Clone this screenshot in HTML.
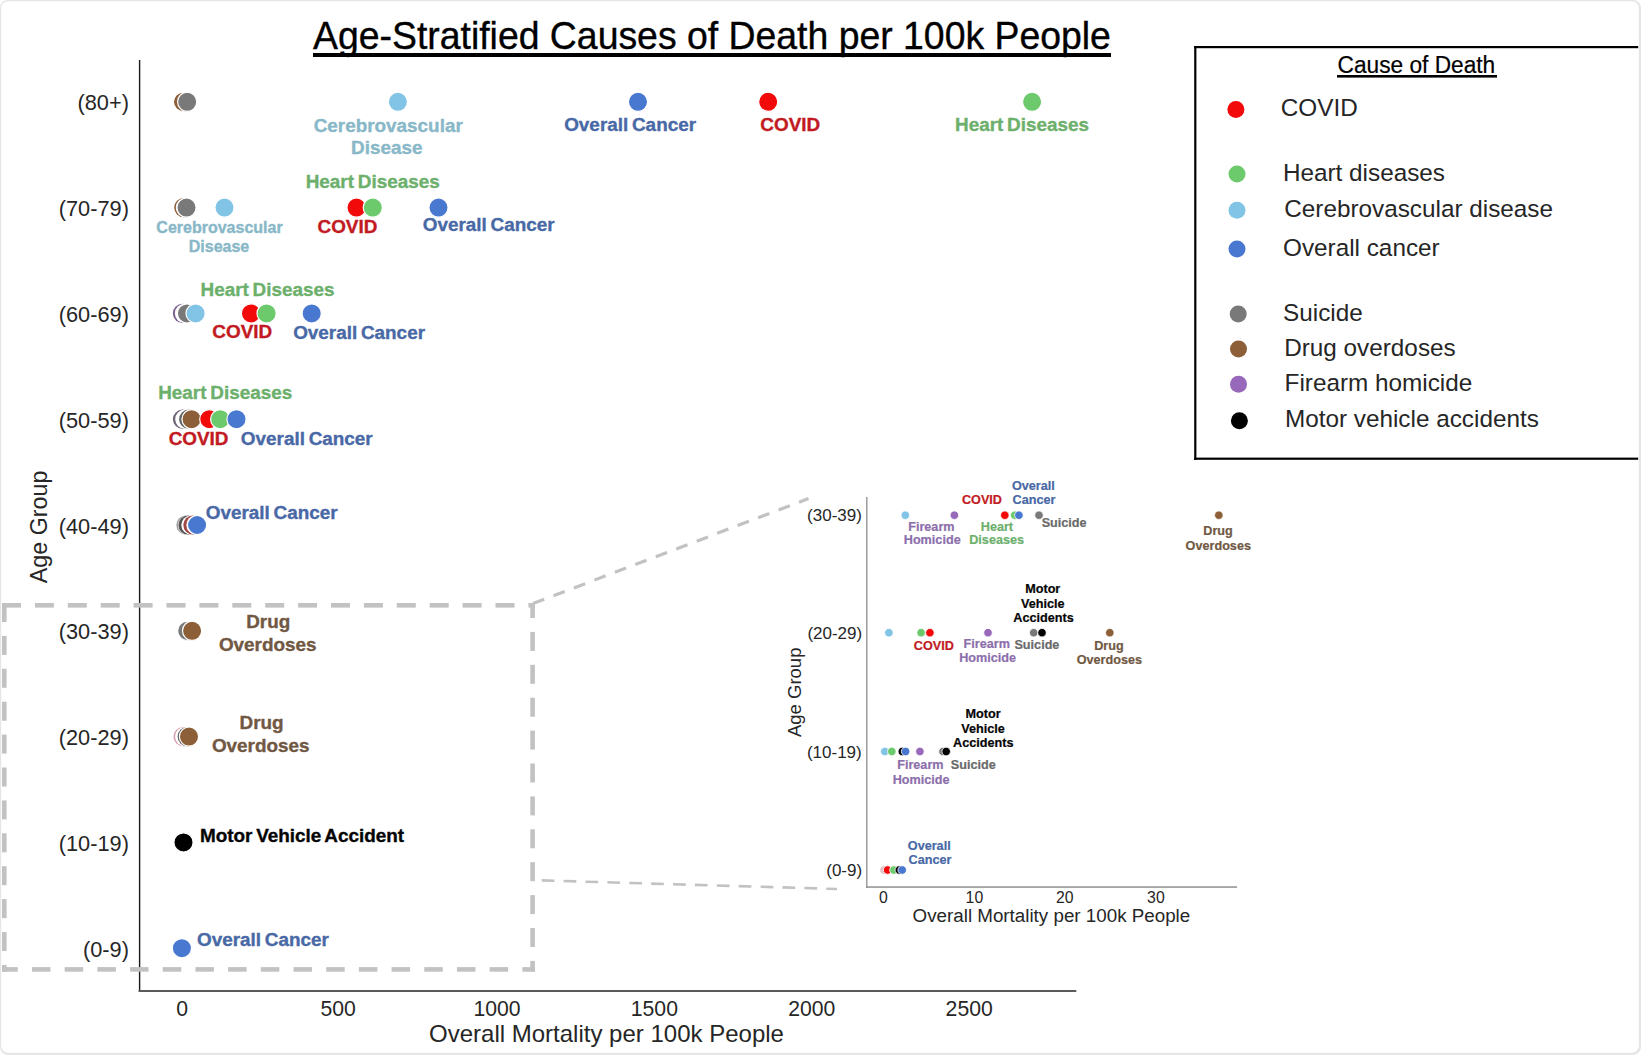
<!DOCTYPE html>
<html><head><meta charset="utf-8"><style>
html,body{margin:0;padding:0;background:#fff;}
svg{display:block;font-family:"Liberation Sans",sans-serif;}
</style></head><body>
<svg width="1641" height="1055" viewBox="0 0 1641 1055">
<rect x="0" y="0" width="1641" height="1055" rx="8" ry="8" fill="#e6e6e6"/>
<rect x="1.2" y="1.2" width="1637.6" height="1051.6" rx="7" ry="7" fill="#ffffff"/>
<g transform="translate(0,49.5) scale(1,1.06) translate(0,-49.5)">
<text x="313.03" y="49.50" font-size="37.4" font-weight="normal" fill="#000000" stroke="#000" stroke-width="0.35">Age-Stratified Causes of Death per 100k People</text>
</g>
<g transform="translate(0,73.4) scale(1,1.06) translate(0,-73.4)">
<text x="1337.58" y="73.40" font-size="22.7" font-weight="normal" fill="#000000" stroke="#000" stroke-width="0.2">Cause of Death</text>
</g>
<text x="1280.77" y="116.30" font-size="24.3" font-weight="normal" fill="#262626">COVID</text>
<text x="1282.91" y="180.60" font-size="24.3" font-weight="normal" fill="#262626">Heart diseases</text>
<text x="1284.26" y="217.20" font-size="24.3" font-weight="normal" fill="#262626">Cerebrovascular disease</text>
<text x="1283.02" y="256.10" font-size="24.3" font-weight="normal" fill="#262626">Overall cancer</text>
<text x="1283.10" y="320.60" font-size="24.3" font-weight="normal" fill="#262626">Suicide</text>
<text x="1284.18" y="356.00" font-size="24.3" font-weight="normal" fill="#262626">Drug overdoses</text>
<text x="1284.55" y="391.20" font-size="24.3" font-weight="normal" fill="#262626">Firearm homicide</text>
<text x="1284.94" y="426.60" font-size="24.3" font-weight="normal" fill="#262626">Motor vehicle accidents</text>
<text x="429.08" y="1042.00" font-size="24.0" font-weight="normal" fill="#262626">Overall Mortality per 100k People</text>
<text x="176.36" y="1016.30" font-size="21.2" font-weight="normal" fill="#262626">0</text>
<text x="320.52" y="1016.30" font-size="21.2" font-weight="normal" fill="#262626">500</text>
<text x="473.47" y="1016.30" font-size="21.2" font-weight="normal" fill="#262626">1000</text>
<text x="630.81" y="1016.30" font-size="21.2" font-weight="normal" fill="#262626">1500</text>
<text x="788.21" y="1016.30" font-size="21.2" font-weight="normal" fill="#262626">2000</text>
<text x="945.62" y="1016.30" font-size="21.2" font-weight="normal" fill="#262626">2500</text>
<text x="807.10" y="521.20" font-size="17.0" font-weight="normal" fill="#262626">(30-39)</text>
<text x="807.40" y="638.60" font-size="17.0" font-weight="normal" fill="#262626">(20-29)</text>
<text x="806.95" y="757.80" font-size="17.0" font-weight="normal" fill="#262626">(10-19)</text>
<text x="826.26" y="875.70" font-size="17.0" font-weight="normal" fill="#262626">(0-9)</text>
<text x="879.11" y="903.30" font-size="15.8" font-weight="normal" fill="#262626">0</text>
<text x="965.62" y="903.30" font-size="15.8" font-weight="normal" fill="#262626">10</text>
<text x="1055.92" y="903.30" font-size="15.8" font-weight="normal" fill="#262626">20</text>
<text x="1147.12" y="903.30" font-size="15.8" font-weight="normal" fill="#262626">30</text>
<text x="912.57" y="922.30" font-size="18.8" font-weight="normal" fill="#262626">Overall Mortality per 100k People</text>
<rect x="313" y="53" width="798" height="4" fill="#000"/>
<rect x="1337" y="75" width="160" height="2.6" fill="#000"/>
<text x="77.53" y="110.30" font-size="21.75" font-weight="normal" fill="#262626">(80+)</text>
<text x="58.78" y="216.10" font-size="21.75" font-weight="normal" fill="#262626">(70-79)</text>
<text x="58.78" y="321.90" font-size="21.75" font-weight="normal" fill="#262626">(60-69)</text>
<text x="58.78" y="427.70" font-size="21.75" font-weight="normal" fill="#262626">(50-59)</text>
<text x="58.78" y="533.50" font-size="21.75" font-weight="normal" fill="#262626">(40-49)</text>
<text x="58.78" y="639.30" font-size="21.75" font-weight="normal" fill="#262626">(30-39)</text>
<text x="58.78" y="745.10" font-size="21.75" font-weight="normal" fill="#262626">(20-29)</text>
<text x="58.78" y="850.90" font-size="21.75" font-weight="normal" fill="#262626">(10-19)</text>
<text x="82.99" y="956.70" font-size="21.75" font-weight="normal" fill="#262626">(0-9)</text>
<text transform="translate(46.50,583.19) rotate(-90)" x="0" y="0" font-size="23.3" fill="#262626">Age Group</text>
<text transform="translate(800.60,737.03) rotate(-90)" x="0" y="0" font-size="18.5" fill="#262626">Age Group</text>
<rect x="138.9" y="60" width="1.4" height="932" fill="#1a1a1a"/>
<rect x="138.6" y="990" width="937.7" height="2" fill="#5a5a5a"/>
<rect x="866.1" y="497" width="1.4" height="391" fill="#959595"/>
<rect x="866.1" y="886.3" width="371" height="1.5" fill="#8f8f8f"/>
<rect x="1194.2" y="46" width="2.2" height="414" fill="#000"/>
<rect x="1194.2" y="46" width="444" height="2.2" fill="#000"/>
<rect x="1194.2" y="457.6" width="444" height="2.2" fill="#000"/>
<rect x="2.00" y="603.00" width="19.00" height="4.6" fill="#c2c2c2"/>
<rect x="34.90" y="603.00" width="19.00" height="4.6" fill="#c2c2c2"/>
<rect x="67.80" y="603.00" width="19.00" height="4.6" fill="#c2c2c2"/>
<rect x="100.70" y="603.00" width="19.00" height="4.6" fill="#c2c2c2"/>
<rect x="133.60" y="603.00" width="19.00" height="4.6" fill="#c2c2c2"/>
<rect x="166.50" y="603.00" width="19.00" height="4.6" fill="#c2c2c2"/>
<rect x="199.40" y="603.00" width="19.00" height="4.6" fill="#c2c2c2"/>
<rect x="232.30" y="603.00" width="19.00" height="4.6" fill="#c2c2c2"/>
<rect x="265.20" y="603.00" width="19.00" height="4.6" fill="#c2c2c2"/>
<rect x="298.10" y="603.00" width="19.00" height="4.6" fill="#c2c2c2"/>
<rect x="331.00" y="603.00" width="19.00" height="4.6" fill="#c2c2c2"/>
<rect x="363.90" y="603.00" width="19.00" height="4.6" fill="#c2c2c2"/>
<rect x="396.80" y="603.00" width="19.00" height="4.6" fill="#c2c2c2"/>
<rect x="429.70" y="603.00" width="19.00" height="4.6" fill="#c2c2c2"/>
<rect x="462.60" y="603.00" width="19.00" height="4.6" fill="#c2c2c2"/>
<rect x="495.50" y="603.00" width="19.00" height="4.6" fill="#c2c2c2"/>
<rect x="528.40" y="603.00" width="6.60" height="4.6" fill="#c2c2c2"/>
<rect x="2.00" y="603.00" width="4.6" height="19.00" fill="#c2c2c2"/>
<rect x="2.00" y="635.90" width="4.6" height="19.00" fill="#c2c2c2"/>
<rect x="2.00" y="668.80" width="4.6" height="19.00" fill="#c2c2c2"/>
<rect x="2.00" y="701.70" width="4.6" height="19.00" fill="#c2c2c2"/>
<rect x="2.00" y="734.60" width="4.6" height="19.00" fill="#c2c2c2"/>
<rect x="2.00" y="767.50" width="4.6" height="19.00" fill="#c2c2c2"/>
<rect x="2.00" y="800.40" width="4.6" height="19.00" fill="#c2c2c2"/>
<rect x="2.00" y="833.30" width="4.6" height="19.00" fill="#c2c2c2"/>
<rect x="2.00" y="866.20" width="4.6" height="19.00" fill="#c2c2c2"/>
<rect x="2.00" y="899.10" width="4.6" height="19.00" fill="#c2c2c2"/>
<rect x="2.00" y="932.00" width="4.6" height="19.00" fill="#c2c2c2"/>
<rect x="2.00" y="964.90" width="4.6" height="6.80" fill="#c2c2c2"/>
<rect x="530.30" y="603.00" width="4.6" height="15.00" fill="#c2c2c2"/>
<rect x="530.30" y="631.90" width="4.6" height="19.00" fill="#c2c2c2"/>
<rect x="530.30" y="664.80" width="4.6" height="19.00" fill="#c2c2c2"/>
<rect x="530.30" y="697.70" width="4.6" height="19.00" fill="#c2c2c2"/>
<rect x="530.30" y="730.60" width="4.6" height="19.00" fill="#c2c2c2"/>
<rect x="530.30" y="763.50" width="4.6" height="19.00" fill="#c2c2c2"/>
<rect x="530.30" y="796.40" width="4.6" height="19.00" fill="#c2c2c2"/>
<rect x="530.30" y="829.30" width="4.6" height="19.00" fill="#c2c2c2"/>
<rect x="530.30" y="862.20" width="4.6" height="19.00" fill="#c2c2c2"/>
<rect x="530.30" y="895.10" width="4.6" height="19.00" fill="#c2c2c2"/>
<rect x="530.30" y="928.00" width="4.6" height="19.00" fill="#c2c2c2"/>
<rect x="530.30" y="960.90" width="4.6" height="10.80" fill="#c2c2c2"/>
<rect x="2.00" y="967.10" width="15.80" height="4.6" fill="#c2c2c2"/>
<rect x="31.99" y="967.10" width="18.50" height="4.6" fill="#c2c2c2"/>
<rect x="64.68" y="967.10" width="18.50" height="4.6" fill="#c2c2c2"/>
<rect x="97.37" y="967.10" width="18.50" height="4.6" fill="#c2c2c2"/>
<rect x="130.06" y="967.10" width="18.50" height="4.6" fill="#c2c2c2"/>
<rect x="162.75" y="967.10" width="18.50" height="4.6" fill="#c2c2c2"/>
<rect x="195.44" y="967.10" width="18.50" height="4.6" fill="#c2c2c2"/>
<rect x="228.13" y="967.10" width="18.50" height="4.6" fill="#c2c2c2"/>
<rect x="260.82" y="967.10" width="18.50" height="4.6" fill="#c2c2c2"/>
<rect x="293.51" y="967.10" width="18.50" height="4.6" fill="#c2c2c2"/>
<rect x="326.20" y="967.10" width="18.50" height="4.6" fill="#c2c2c2"/>
<rect x="358.89" y="967.10" width="18.50" height="4.6" fill="#c2c2c2"/>
<rect x="391.58" y="967.10" width="18.50" height="4.6" fill="#c2c2c2"/>
<rect x="424.27" y="967.10" width="18.50" height="4.6" fill="#c2c2c2"/>
<rect x="456.96" y="967.10" width="18.50" height="4.6" fill="#c2c2c2"/>
<rect x="489.65" y="967.10" width="18.50" height="4.6" fill="#c2c2c2"/>
<rect x="522.34" y="967.10" width="12.66" height="4.6" fill="#c2c2c2"/>
<line x1="533" y1="603.5" x2="808.5" y2="498.6" stroke="#c2c2c2" stroke-width="3.2" stroke-dasharray="12 9.9"/>
<line x1="541.7" y1="880.4" x2="837" y2="889" stroke="#c2c2c2" stroke-width="2.6" stroke-dasharray="12.7 9.2"/>
<circle cx="183.00" cy="101.80" r="9.6" fill="#8c5f38" stroke="#fff" stroke-width="1.2"/>
<circle cx="187.20" cy="101.80" r="9.6" fill="#797979" stroke="#fff" stroke-width="1.2"/>
<circle cx="397.90" cy="101.80" r="9.6" fill="#82c4e6" stroke="#fff" stroke-width="1.2"/>
<circle cx="638.00" cy="101.80" r="9.6" fill="#4878d0" stroke="#fff" stroke-width="1.2"/>
<circle cx="768.20" cy="101.80" r="9.6" fill="#f20a0a" stroke="#fff" stroke-width="1.2"/>
<circle cx="1032.10" cy="101.80" r="9.6" fill="#6cca6c" stroke="#fff" stroke-width="1.2"/>
<circle cx="183.80" cy="207.60" r="9.6" fill="#8c5f38"/>
<circle cx="185.40" cy="207.60" r="9.6" fill="#ffffff"/>
<circle cx="186.50" cy="207.60" r="9.6" fill="#797979" stroke="#fff" stroke-width="1.2"/>
<circle cx="224.50" cy="207.60" r="9.6" fill="#82c4e6" stroke="#fff" stroke-width="1.2"/>
<circle cx="356.50" cy="207.60" r="9.6" fill="#f20a0a" stroke="#fff" stroke-width="1.2"/>
<circle cx="372.80" cy="207.60" r="9.6" fill="#6cca6c" stroke="#fff" stroke-width="1.2"/>
<circle cx="438.50" cy="207.60" r="9.6" fill="#4878d0" stroke="#fff" stroke-width="1.2"/>
<circle cx="182.50" cy="313.40" r="9.6" fill="#7a5f8e"/>
<circle cx="184.50" cy="313.40" r="9.6" fill="#ffffff"/>
<circle cx="187.00" cy="313.40" r="9.6" fill="#797979" stroke="#fff" stroke-width="1.2"/>
<circle cx="195.60" cy="313.40" r="9.6" fill="#82c4e6" stroke="#fff" stroke-width="1.2"/>
<circle cx="251.00" cy="313.40" r="9.6" fill="#f20a0a" stroke="#fff" stroke-width="1.2"/>
<circle cx="266.60" cy="313.40" r="9.6" fill="#6cca6c" stroke="#fff" stroke-width="1.2"/>
<circle cx="311.70" cy="313.40" r="9.6" fill="#4878d0" stroke="#fff" stroke-width="1.2"/>
<circle cx="182.50" cy="419.20" r="9.6" fill="#6e6478"/>
<circle cx="184.80" cy="419.20" r="9.6" fill="#ffffff"/>
<circle cx="188.70" cy="419.20" r="9.6" fill="#666666"/>
<circle cx="191.30" cy="419.20" r="9.6" fill="#ffffff"/>
<circle cx="191.60" cy="419.20" r="9.6" fill="#8c5f38" stroke="#fff" stroke-width="1.2"/>
<circle cx="209.30" cy="419.20" r="9.6" fill="#f20a0a" stroke="#fff" stroke-width="1.2"/>
<circle cx="220.20" cy="419.20" r="9.6" fill="#6cca6c" stroke="#fff" stroke-width="1.2"/>
<circle cx="236.50" cy="419.20" r="9.6" fill="#4878d0" stroke="#fff" stroke-width="1.2"/>
<circle cx="185.90" cy="525.00" r="9.6" fill="#a0a0a0"/>
<circle cx="187.50" cy="525.00" r="9.6" fill="#ffffff"/>
<circle cx="188.00" cy="525.00" r="9.6" fill="#555555"/>
<circle cx="190.90" cy="525.00" r="9.6" fill="#ffffff"/>
<circle cx="192.90" cy="525.00" r="9.6" fill="#a04848"/>
<circle cx="195.90" cy="525.00" r="9.6" fill="#ffffff"/>
<circle cx="197.10" cy="525.00" r="9.6" fill="#4878d0" stroke="#fff" stroke-width="1.2"/>
<circle cx="187.20" cy="630.80" r="9.6" fill="#797979" stroke="#fff" stroke-width="1.2"/>
<circle cx="192.10" cy="630.80" r="9.6" fill="#8c5f38" stroke="#fff" stroke-width="1.2"/>
<circle cx="183.10" cy="736.60" r="9.6" fill="#d8a0b0"/>
<circle cx="184.70" cy="736.60" r="9.6" fill="#ffffff"/>
<circle cx="187.20" cy="736.60" r="9.6" fill="#606060"/>
<circle cx="189.10" cy="736.60" r="9.6" fill="#ffffff"/>
<circle cx="189.00" cy="736.60" r="9.6" fill="#8c5f38" stroke="#fff" stroke-width="1.2"/>
<circle cx="183.50" cy="842.40" r="9.6" fill="#000000" stroke="#fff" stroke-width="1.2"/>
<circle cx="181.90" cy="948.20" r="9.6" fill="#4878d0" stroke="#fff" stroke-width="1.2"/>
<circle cx="905.30" cy="515.20" r="4.25" fill="#82c4e6" stroke="#fff" stroke-width="0.8"/>
<circle cx="954.40" cy="515.20" r="4.25" fill="#9868bb" stroke="#fff" stroke-width="0.8"/>
<circle cx="1004.80" cy="515.20" r="4.25" fill="#f20a0a" stroke="#fff" stroke-width="0.8"/>
<circle cx="1014.70" cy="515.20" r="4.25" fill="#6cca6c" stroke="#fff" stroke-width="0.8"/>
<circle cx="1018.90" cy="515.20" r="4.25" fill="#4878d0" stroke="#fff" stroke-width="0.8"/>
<circle cx="1039.00" cy="515.20" r="4.25" fill="#797979" stroke="#fff" stroke-width="0.8"/>
<circle cx="1218.80" cy="515.20" r="4.25" fill="#8c5f38" stroke="#fff" stroke-width="0.8"/>
<circle cx="888.90" cy="632.70" r="4.25" fill="#82c4e6" stroke="#fff" stroke-width="0.8"/>
<circle cx="921.10" cy="632.70" r="4.25" fill="#6cca6c" stroke="#fff" stroke-width="0.8"/>
<circle cx="929.90" cy="632.70" r="4.25" fill="#f20a0a" stroke="#fff" stroke-width="0.8"/>
<circle cx="988.00" cy="632.70" r="4.25" fill="#9868bb" stroke="#fff" stroke-width="0.8"/>
<circle cx="1033.70" cy="632.70" r="4.25" fill="#797979" stroke="#fff" stroke-width="0.8"/>
<circle cx="1042.00" cy="632.70" r="4.25" fill="#000000" stroke="#fff" stroke-width="0.8"/>
<circle cx="1109.80" cy="632.70" r="4.25" fill="#8c5f38" stroke="#fff" stroke-width="0.8"/>
<circle cx="884.80" cy="751.50" r="4.25" fill="#82c4e6" stroke="#fff" stroke-width="0.8"/>
<circle cx="891.80" cy="751.50" r="4.25" fill="#6cca6c" stroke="#fff" stroke-width="0.8"/>
<circle cx="902.30" cy="751.50" r="4.25" fill="#000000" stroke="#fff" stroke-width="0.8"/>
<circle cx="905.60" cy="751.50" r="4.25" fill="#4878d0" stroke="#fff" stroke-width="0.8"/>
<circle cx="919.90" cy="751.50" r="4.25" fill="#9868bb" stroke="#fff" stroke-width="0.8"/>
<circle cx="943.00" cy="751.50" r="4.25" fill="#797979" stroke="#fff" stroke-width="0.8"/>
<circle cx="946.20" cy="751.50" r="4.25" fill="#000000" stroke="#fff" stroke-width="0.8"/>
<circle cx="884.00" cy="870.00" r="4.25" fill="#e0c0c4" stroke="#fff" stroke-width="0.8"/>
<circle cx="887.60" cy="870.00" r="4.25" fill="#f20a0a" stroke="#fff" stroke-width="0.8"/>
<circle cx="893.90" cy="870.00" r="4.25" fill="#6cca6c" stroke="#fff" stroke-width="0.8"/>
<circle cx="899.30" cy="870.00" r="4.25" fill="#000000" stroke="#fff" stroke-width="0.8"/>
<circle cx="902.20" cy="870.00" r="4.25" fill="#4878d0" stroke="#fff" stroke-width="0.8"/>
<circle cx="1235.90" cy="109.50" r="8.5" fill="#f20a0a" stroke="#fff" stroke-width="0"/>
<circle cx="1237.00" cy="173.90" r="8.5" fill="#6cca6c" stroke="#fff" stroke-width="0"/>
<circle cx="1237.00" cy="210.20" r="8.5" fill="#82c4e6" stroke="#fff" stroke-width="0"/>
<circle cx="1237.00" cy="249.10" r="8.5" fill="#4878d0" stroke="#fff" stroke-width="0"/>
<circle cx="1238.20" cy="313.90" r="8.5" fill="#797979" stroke="#fff" stroke-width="0"/>
<circle cx="1238.50" cy="349.10" r="8.5" fill="#8c5f38" stroke="#fff" stroke-width="0"/>
<circle cx="1238.50" cy="384.30" r="8.5" fill="#9868bb" stroke="#fff" stroke-width="0"/>
<circle cx="1239.40" cy="420.80" r="8.5" fill="#000000" stroke="#fff" stroke-width="0"/>
<text x="313.66" y="132.00" font-size="18.9" font-weight="bold" fill="#88b8c8" stroke="#88b8c8" stroke-width="0.35">Cerebrovascular</text>
<text x="351.02" y="154.20" font-size="18.9" font-weight="bold" fill="#88b8c8" stroke="#88b8c8" stroke-width="0.35">Disease</text>
<text x="564.18" y="130.80" font-size="18.9" font-weight="bold" fill="#4868a6" word-spacing="-1.5" stroke="#4868a6" stroke-width="0.35">Overall Cancer</text>
<text x="760.32" y="130.80" font-size="18.9" font-weight="bold" fill="#c21a22" stroke="#c21a22" stroke-width="0.35">COVID</text>
<text x="955.08" y="130.70" font-size="18.9" font-weight="bold" fill="#6cb06c" word-spacing="-1.5" stroke="#6cb06c" stroke-width="0.35">Heart Diseases</text>
<text x="156.36" y="232.50" font-size="16.0" font-weight="bold" fill="#88b8c8" stroke="#88b8c8" stroke-width="0.35">Cerebrovascular</text>
<text x="188.75" y="252.40" font-size="16.0" font-weight="bold" fill="#88b8c8" stroke="#88b8c8" stroke-width="0.35">Disease</text>
<text x="305.73" y="187.50" font-size="18.9" font-weight="bold" fill="#6cb06c" word-spacing="-1.5" stroke="#6cb06c" stroke-width="0.35">Heart Diseases</text>
<text x="317.52" y="232.70" font-size="18.9" font-weight="bold" fill="#c21a22" stroke="#c21a22" stroke-width="0.35">COVID</text>
<text x="422.73" y="230.70" font-size="18.9" font-weight="bold" fill="#4868a6" word-spacing="-1.5" stroke="#4868a6" stroke-width="0.35">Overall Cancer</text>
<text x="200.58" y="296.20" font-size="18.9" font-weight="bold" fill="#6cb06c" word-spacing="-1.5" stroke="#6cb06c" stroke-width="0.35">Heart Diseases</text>
<text x="212.37" y="337.70" font-size="18.9" font-weight="bold" fill="#c21a22" stroke="#c21a22" stroke-width="0.35">COVID</text>
<text x="293.13" y="338.60" font-size="18.9" font-weight="bold" fill="#4868a6" word-spacing="-1.5" stroke="#4868a6" stroke-width="0.35">Overall Cancer</text>
<text x="158.23" y="399.30" font-size="18.9" font-weight="bold" fill="#6cb06c" word-spacing="-1.5" stroke="#6cb06c" stroke-width="0.35">Heart Diseases</text>
<text x="168.67" y="445.00" font-size="18.9" font-weight="bold" fill="#c21a22" stroke="#c21a22" stroke-width="0.35">COVID</text>
<text x="240.83" y="445.00" font-size="18.9" font-weight="bold" fill="#4868a6" word-spacing="-1.5" stroke="#4868a6" stroke-width="0.35">Overall Cancer</text>
<text x="205.73" y="518.70" font-size="18.9" font-weight="bold" fill="#4868a6" word-spacing="-1.5" stroke="#4868a6" stroke-width="0.35">Overall Cancer</text>
<text x="246.20" y="628.30" font-size="18.9" font-weight="bold" fill="#715843" stroke="#715843" stroke-width="0.35">Drug</text>
<text x="218.90" y="650.60" font-size="18.9" font-weight="bold" fill="#715843" stroke="#715843" stroke-width="0.35">Overdoses</text>
<text x="239.50" y="729.40" font-size="18.9" font-weight="bold" fill="#715843" stroke="#715843" stroke-width="0.35">Drug</text>
<text x="211.90" y="752.20" font-size="18.9" font-weight="bold" fill="#715843" stroke="#715843" stroke-width="0.35">Overdoses</text>
<text x="199.93" y="841.60" font-size="18.9" font-weight="bold" fill="#050505" word-spacing="-1.5" stroke="#050505" stroke-width="0.35">Motor Vehicle Accident</text>
<text x="197.03" y="946.20" font-size="18.9" font-weight="bold" fill="#4868a6" word-spacing="-1.5" stroke="#4868a6" stroke-width="0.35">Overall Cancer</text>
<text x="961.97" y="504.10" font-size="12.65" font-weight="bold" fill="#c21a22" stroke="#c21a22" stroke-width="0.2">COVID</text>
<text x="1011.95" y="489.60" font-size="12.65" font-weight="bold" fill="#4868a6" stroke="#4868a6" stroke-width="0.2">Overall</text>
<text x="1012.50" y="504.10" font-size="12.65" font-weight="bold" fill="#4868a6" stroke="#4868a6" stroke-width="0.2">Cancer</text>
<text x="908.20" y="530.60" font-size="12.65" font-weight="bold" fill="#8c6fac" stroke="#8c6fac" stroke-width="0.2">Firearm</text>
<text x="903.78" y="544.20" font-size="12.65" font-weight="bold" fill="#8c6fac" stroke="#8c6fac" stroke-width="0.2">Homicide</text>
<text x="980.78" y="530.60" font-size="12.65" font-weight="bold" fill="#6cb06c" stroke="#6cb06c" stroke-width="0.2">Heart</text>
<text x="969.22" y="544.20" font-size="12.65" font-weight="bold" fill="#6cb06c" stroke="#6cb06c" stroke-width="0.2">Diseases</text>
<text x="1041.65" y="527.40" font-size="12.65" font-weight="bold" fill="#6a6a6a" stroke="#6a6a6a" stroke-width="0.2">Suicide</text>
<text x="1203.29" y="534.70" font-size="12.65" font-weight="bold" fill="#715843" stroke="#715843" stroke-width="0.2">Drug</text>
<text x="1185.61" y="549.50" font-size="12.65" font-weight="bold" fill="#715843" stroke="#715843" stroke-width="0.2">Overdoses</text>
<text x="913.77" y="649.60" font-size="12.65" font-weight="bold" fill="#c21a22" stroke="#c21a22" stroke-width="0.2">COVID</text>
<text x="963.60" y="647.80" font-size="12.65" font-weight="bold" fill="#8c6fac" stroke="#8c6fac" stroke-width="0.2">Firearm</text>
<text x="959.13" y="662.30" font-size="12.65" font-weight="bold" fill="#8c6fac" stroke="#8c6fac" stroke-width="0.2">Homicide</text>
<text x="1014.45" y="649.20" font-size="12.65" font-weight="bold" fill="#6a6a6a" stroke="#6a6a6a" stroke-width="0.2">Suicide</text>
<text x="1025.19" y="592.60" font-size="12.65" font-weight="bold" fill="#050505" stroke="#050505" stroke-width="0.2">Motor</text>
<text x="1020.95" y="607.50" font-size="12.65" font-weight="bold" fill="#050505" stroke="#050505" stroke-width="0.2">Vehicle</text>
<text x="1013.27" y="622.20" font-size="12.65" font-weight="bold" fill="#050505" stroke="#050505" stroke-width="0.2">Accidents</text>
<text x="1094.24" y="649.60" font-size="12.65" font-weight="bold" fill="#715843" stroke="#715843" stroke-width="0.2">Drug</text>
<text x="1076.66" y="663.90" font-size="12.65" font-weight="bold" fill="#715843" stroke="#715843" stroke-width="0.2">Overdoses</text>
<text x="897.20" y="769.40" font-size="12.65" font-weight="bold" fill="#8c6fac" stroke="#8c6fac" stroke-width="0.2">Firearm</text>
<text x="892.73" y="784.10" font-size="12.65" font-weight="bold" fill="#8c6fac" stroke="#8c6fac" stroke-width="0.2">Homicide</text>
<text x="950.75" y="769.40" font-size="12.65" font-weight="bold" fill="#6a6a6a" stroke="#6a6a6a" stroke-width="0.2">Suicide</text>
<text x="965.54" y="717.50" font-size="12.65" font-weight="bold" fill="#050505" stroke="#050505" stroke-width="0.2">Motor</text>
<text x="961.30" y="732.50" font-size="12.65" font-weight="bold" fill="#050505" stroke="#050505" stroke-width="0.2">Vehicle</text>
<text x="953.12" y="747.10" font-size="12.65" font-weight="bold" fill="#050505" stroke="#050505" stroke-width="0.2">Accidents</text>
<text x="907.80" y="849.50" font-size="12.65" font-weight="bold" fill="#4868a6" stroke="#4868a6" stroke-width="0.2">Overall</text>
<text x="908.60" y="864.40" font-size="12.65" font-weight="bold" fill="#4868a6" stroke="#4868a6" stroke-width="0.2">Cancer</text>
</svg>
</body></html>
